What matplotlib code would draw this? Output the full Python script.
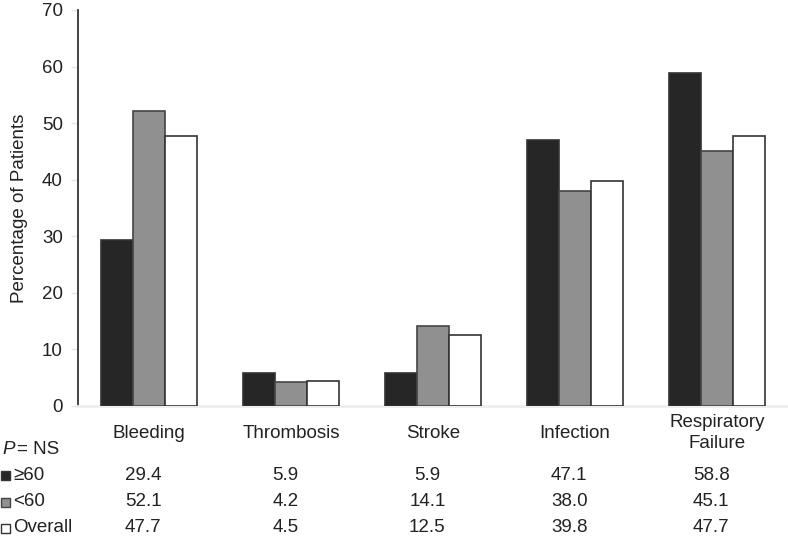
import matplotlib
matplotlib.use("Agg")
import matplotlib.pyplot as plt
from matplotlib.patches import Rectangle
from matplotlib.transforms import blended_transform_factory
import numpy as np

categories = ["Bleeding", "Thrombosis", "Stroke", "Infection", "Respiratory\nFailure"]
series_names = ["\u226560", "<60", "Overall"]
ge60 = [29.4, 5.9, 5.9, 47.1, 58.8]
lt60 = [52.1, 4.2, 14.1, 38.0, 45.1]
overall = [47.7, 4.5, 12.5, 39.8, 47.7]
yticks = [0, 10, 20, 30, 40, 50, 60, 70]

plt.rcParams['font.family'] = ['Liberation Sans', 'DejaVu Sans']
W, H = 788, 544
fig = plt.figure(figsize=(W / 100, H / 100), dpi=100)
ax = fig.add_axes([78 / W, 1 - 406 / H, 1 - 78 / W, (406 - 10) / H])

x = np.arange(len(categories))
bw = 0.225
fills = ["#262626", "#909090", "#ffffff"]
edges = ["#333333", "#444444", "#333333"]
for i, (vals, fc, ec) in enumerate(zip([ge60, lt60, overall], fills, edges)):
    ax.bar(x + (i - 1) * bw, vals, width=bw, color=fc, edgecolor=ec, linewidth=1.2, zorder=3)

ax.set_xlim(-0.5, 4.5)
ax.set_ylim(0, 70)
ax.set_yticks(yticks)
ax.tick_params(axis='y', labelsize=13.5, colors='#e6e6e6', labelcolor='#222222', length=5, width=1, pad=6)
ax.set_xticks([])
for s in ['top', 'right']:
    ax.spines[s].set_visible(False)
ax.spines['left'].set_color('#222222')
ax.spines['left'].set_linewidth(1.2)
ax.spines['bottom'].set_color('#eeeeee')
ax.spines['bottom'].set_linewidth(2)
ax.set_ylabel("Percentage of Patients", fontsize=13.5, color='#222222', labelpad=10)

tr = blended_transform_factory(ax.transData, fig.transFigure)
def fy(py):
    return 1 - py / H

for xi, cat in zip(x, categories):
    ax.text(xi, fy(433), cat, transform=tr, ha='center', va='center', fontsize=13.5,
            color='#222222', linespacing=1.25)

row_y = [475, 502, 528]
for vals, ry in zip([ge60, lt60, overall], row_y):
    for xi, v in zip(x, vals):
        ax.text(xi - 0.04, fy(ry), f"{v:.1f}", transform=tr, ha='center', va='center',
                fontsize=13.5, color='#222222')

fig.text(2 / W, fy(450), "P", ha='left', va='center', fontsize=13.5, color='#222222', fontstyle='italic')
fig.text(17 / W, fy(450), "= NS", ha='left', va='center', fontsize=13.5, color='#222222')
for name, fc, ec, ry in zip(series_names, fills, edges, row_y):
    fig.patches.append(Rectangle((1 / W, fy(ry + 5)), 9 / W, 9 / H, transform=fig.transFigure,
                                 facecolor=fc, edgecolor=ec, linewidth=1))
    fig.text(13 / W, fy(ry), name, ha='left', va='center', fontsize=13.5, color='#222222')

fig.savefig("out.png", dpi=100)
